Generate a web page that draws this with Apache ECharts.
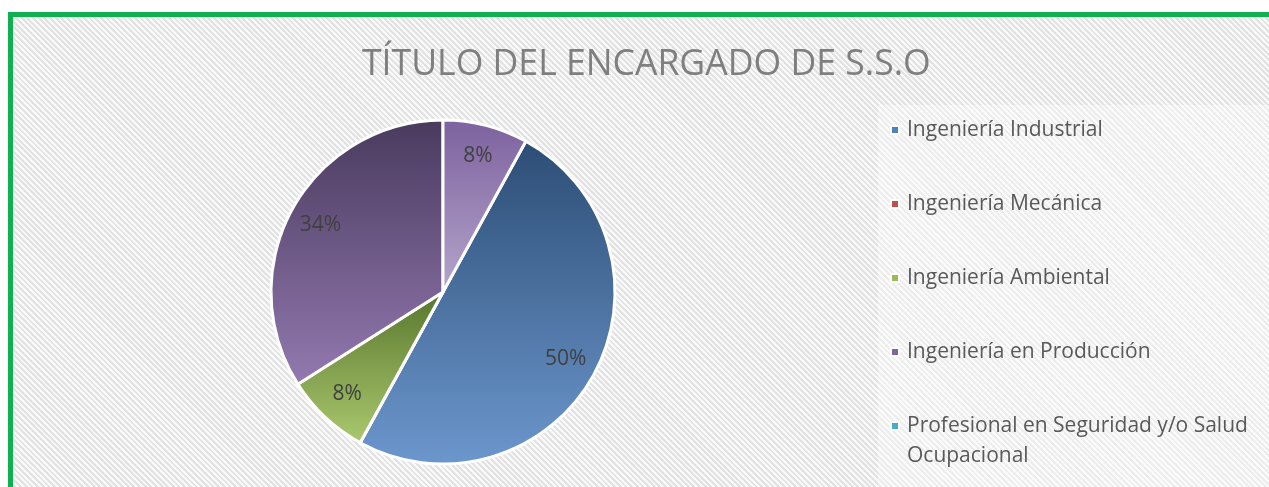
<!DOCTYPE html>
<html>
<head>
<meta charset="utf-8">
<script src="https://cdn.jsdelivr.net/npm/echarts@6/dist/echarts.min.js"></script>
<style>
  html, body { margin: 0; padding: 0; background: #fff; }
  #frame {
    position: absolute; left: 8px; top: 12px; width: 1300px; height: 500px;
    border-left: 5px solid #0fb050; border-top: 5px solid #0fb050;
    background: repeating-linear-gradient(45deg, #f9f9f9 0px, #f9f9f9 2px, #e2e2e2 2px, #e2e2e2 4px);
  }
  #chart { position: absolute; left: 0; top: 0; width: 1269px; height: 487px; }
</style>
</head>
<body>
<div id="frame"></div>
<div id="chart"></div>
<script>
// datos del grafico
const categories = ['Ingeniería Industrial', 'Ingeniería Mecánica', 'Ingeniería Ambiental', 'Ingeniería en Producción', 'Profesional en Seguridad y/o Salud Ocupacional']
const values = [50, 0, 8, 34, 8]

// colores de leyenda y degradados (arriba -> abajo)
const legendColors = ['#4f81bd', '#c0504d', '#9bbb59', '#8064a2', '#4bacc6']
const sliceColors = [
  ['#2c4d75', '#6c97cd'],
  ['#943634', '#d99694'],
  ['#58762c', '#abc96f'],
  ['#493a5d', '#9379b0'],
  ['#7c619e', '#b5a6cb']
]

function grad (c) {
  return new echarts.graphic.LinearGradient(0, 0, 0, 1, [
    { offset: 0, color: c[0] },
    { offset: 1, color: c[1] }
  ])
}

const pieData = categories.map((name, i) => ({
  name: name,
  value: values[i],
  itemStyle: { color: grad(sliceColors[i]) }
}))

const labelData = categories.map((name, i) => ({ name: name, value: values[i] }))

const legendData = categories.map((name, i) => ({ name: name, itemStyle: { color: legendColors[i] } }))
const last = legendData.length - 1

const legendText = {
  fontFamily: 'Open Sans',
  fontSize: 21,
  color: '#595959',
  lineHeight: 30,
  padding: [0, 0, 0, 3],
  width: 360,
  overflow: 'break'
}

const myChart = echarts.init(document.getElementById('chart'))
myChart.setOption({
  backgroundColor: 'transparent',
  animation: false,
  title: {
    text: 'TÍTULO DEL ENCARGADO DE S.S.O',
    left: 357,
    top: 42,
    textStyle: {
      fontFamily: 'Open Sans',
      fontWeight: 'normal',
      fontSize: 35.6,
      color: '#7f7f7f'
    }
  },
  graphic: [
    {
      type: 'rect',
      z: -1,
      shape: { x: 878, y: 105, width: 400, height: 400 },
      style: { fill: 'rgba(255,255,255,0.4)' }
    }
  ],
  legend: [
    {
      orient: 'vertical',
      left: 890,
      top: 115,
      height: 360,
      padding: 0,
      itemWidth: 8,
      itemHeight: 8,
      itemGap: 44,
      icon: 'rect',
      selectedMode: false,
      data: legendData.slice(0, last),
      textStyle: legendText
    },
    {
      // ultima entrada en dos lineas: linea vacia arriba para alinear el icono con la primera
      orient: 'vertical',
      left: 890,
      top: 381,
      height: 100,
      padding: 0,
      itemWidth: 8,
      itemHeight: 8,
      icon: 'rect',
      selectedMode: false,
      data: [legendData[last]],
      formatter: function (name) { return '\n' + name },
      textStyle: legendText
    }
  ],
  series: [
    {
      name: 'main',
      type: 'pie',
      center: [443, 292],
      radius: 172,
      startAngle: 61.2,
      clockwise: true,
      silent: true,
      label: { show: false },
      labelLine: { show: false },
      itemStyle: { borderColor: '#fff', borderWidth: 3 },
      data: pieData
    },
    {
      name: 'labels',
      type: 'pie',
      center: [443, 292],
      radius: [108, 166],
      startAngle: 61.2,
      clockwise: true,
      silent: true,
      itemStyle: { color: 'rgba(0,0,0,0)' },
      label: {
        show: true,
        position: 'inside',
        fontFamily: 'Open Sans',
        fontSize: 21,
        color: '#404040',
        formatter: function (p) { return p.value ? p.percent + '%' : '' }
      },
      labelLine: { show: false },
      data: labelData
    }
  ]
})
</script>
</body>
</html>
